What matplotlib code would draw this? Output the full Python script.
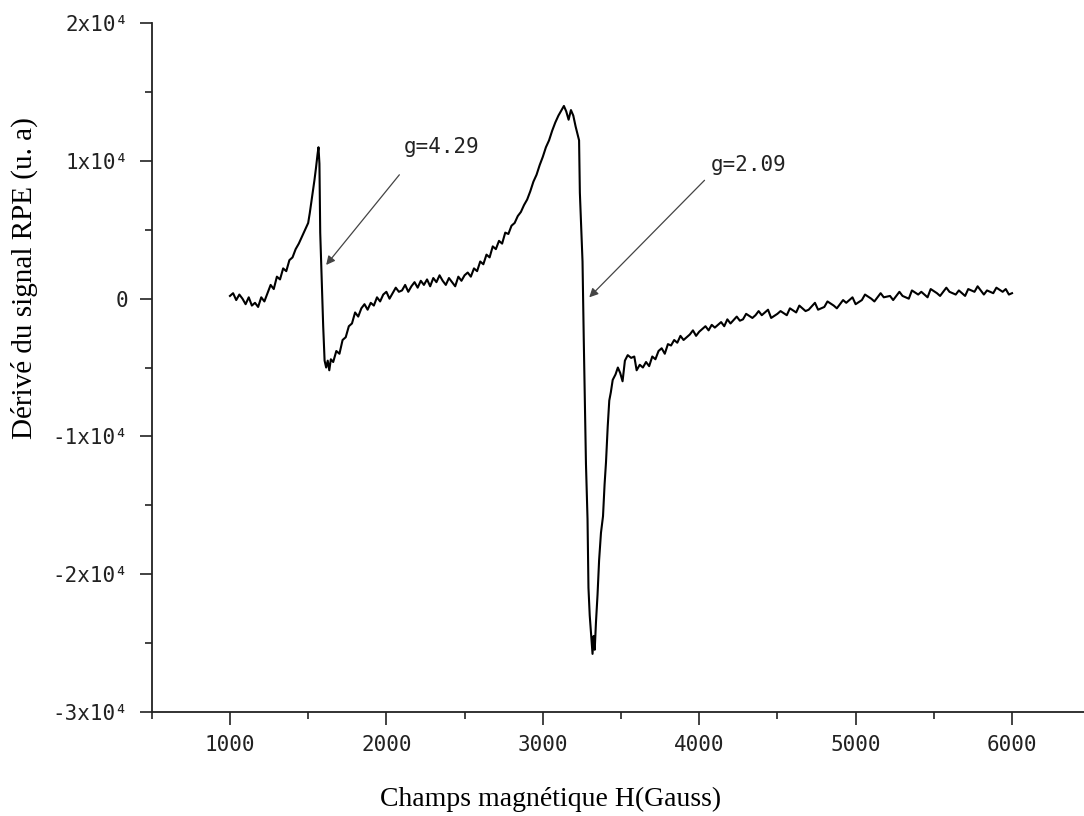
import numpy as np
import matplotlib
matplotlib.use("Agg")
import matplotlib.pyplot as plt
from matplotlib.ticker import MultipleLocator, FixedLocator

# champ magnétique (G) et signal dérivé (en unités de 1e4)
field = [
    1000, 1020, 1040, 1060, 1080, 1100, 1120, 1140, 1160, 1180,
    1200, 1220, 1240, 1260, 1280, 1300, 1320, 1340, 1360, 1380,
    1400, 1420, 1440, 1460, 1480, 1500, 1510, 1520, 1530, 1540,
    1550, 1560, 1566, 1572, 1577, 1596, 1605, 1615, 1625, 1635,
    1645, 1660, 1680, 1700, 1720, 1740, 1760, 1780, 1800, 1820,
    1840, 1860, 1880, 1900, 1920, 1940, 1960, 1980, 2000, 2020,
    2040, 2060, 2080, 2100, 2120, 2140, 2160, 2180, 2200, 2220,
    2240, 2260, 2280, 2300, 2320, 2340, 2360, 2380, 2400, 2420,
    2440, 2460, 2480, 2500, 2520, 2540, 2560, 2580, 2600, 2620,
    2640, 2660, 2680, 2700, 2720, 2740, 2760, 2780, 2800, 2820,
    2840, 2860, 2880, 2900, 2920, 2940, 2960, 2980, 3000, 3020,
    3040, 3060, 3080, 3100, 3120, 3135, 3150, 3165, 3180, 3195,
    3210, 3225, 3232, 3237, 3254, 3262, 3276, 3286, 3292, 3300,
    3310, 3318, 3325, 3332, 3340, 3350, 3360, 3372, 3385, 3395,
    3404, 3415, 3425, 3435, 3447, 3465, 3480, 3495, 3510, 3525,
    3543, 3565, 3585, 3600, 3620, 3640, 3660, 3680, 3700, 3720,
    3740, 3760, 3780, 3800, 3820, 3840, 3860, 3880, 3900, 3940,
    3960, 3980, 4000, 4040, 4060, 4080, 4100, 4140, 4160, 4180,
    4200, 4240, 4260, 4280, 4300, 4340, 4360, 4380, 4400, 4440,
    4460, 4500, 4520, 4560, 4580, 4620, 4640, 4680, 4700, 4740,
    4760, 4800, 4820, 4860, 4880, 4920, 4940, 4980, 5000, 5040,
    5060, 5100, 5120, 5160, 5180, 5220, 5240, 5280, 5300, 5340,
    5360, 5400, 5420, 5460, 5480, 5520, 5540, 5580, 5600, 5640,
    5660, 5700, 5720, 5760, 5780, 5820, 5840, 5880, 5900, 5940,
    5960, 5980, 6000,
]
signal = [
    0.02, 0.04, -0.01, 0.03, 0.00, -0.04, 0.01, -0.05, -0.03, -0.06,
    0.01, -0.02, 0.04, 0.10, 0.07, 0.16, 0.14, 0.22, 0.20, 0.28,
    0.30, 0.36, 0.40, 0.45, 0.50, 0.55, 0.62, 0.70, 0.78, 0.86,
    0.95, 1.05, 1.10, 0.98, 0.48, -0.20, -0.45, -0.50, -0.45, -0.52,
    -0.44, -0.46, -0.38, -0.40, -0.30, -0.28, -0.20, -0.18, -0.10, -0.13,
    -0.07, -0.04, -0.08, -0.03, -0.05, 0.01, -0.02, 0.03, 0.05, 0.00,
    0.04, 0.08, 0.05, 0.06, 0.10, 0.05, 0.09, 0.12, 0.08, 0.13,
    0.10, 0.14, 0.09, 0.15, 0.12, 0.17, 0.13, 0.10, 0.15, 0.12,
    0.09, 0.16, 0.13, 0.17, 0.19, 0.16, 0.22, 0.20, 0.27, 0.25,
    0.32, 0.30, 0.38, 0.36, 0.42, 0.40, 0.48, 0.47, 0.53, 0.55,
    0.60, 0.63, 0.68, 0.72, 0.78, 0.85, 0.90, 0.97, 1.03, 1.10,
    1.15, 1.22, 1.28, 1.33, 1.37, 1.40, 1.36, 1.30, 1.37, 1.33,
    1.25, 1.18, 1.15, 0.77, 0.27, -0.30, -1.20, -1.60, -2.10, -2.30,
    -2.45, -2.58, -2.45, -2.55, -2.35, -2.15, -1.90, -1.70, -1.58, -1.35,
    -1.19, -0.93, -0.74, -0.68, -0.59, -0.55, -0.50, -0.54, -0.60, -0.45,
    -0.41, -0.43, -0.42, -0.52, -0.48, -0.50, -0.46, -0.49, -0.42, -0.44,
    -0.38, -0.36, -0.40, -0.33, -0.34, -0.30, -0.32, -0.27, -0.30, -0.26,
    -0.23, -0.27, -0.24, -0.20, -0.23, -0.19, -0.21, -0.17, -0.20, -0.15,
    -0.18, -0.13, -0.16, -0.15, -0.11, -0.14, -0.12, -0.09, -0.12, -0.08,
    -0.14, -0.11, -0.09, -0.12, -0.07, -0.10, -0.05, -0.09, -0.08, -0.03,
    -0.08, -0.06, -0.02, -0.05, -0.07, -0.01, -0.03, 0.01, -0.04, -0.01,
    0.03, 0.00, -0.02, 0.04, 0.01, 0.02, -0.01, 0.05, 0.02, 0.00,
    0.06, 0.03, 0.05, 0.01, 0.07, 0.04, 0.02, 0.08, 0.05, 0.03,
    0.06, 0.02, 0.07, 0.05, 0.09, 0.03, 0.06, 0.04, 0.08, 0.05,
    0.07, 0.03, 0.04,
]

y_ticks = [-3e4, -2e4, -1e4, 0, 1e4, 2e4]
y_ticklabels = ["-3x10⁴", "-2x10⁴", "-1x10⁴", "0", "1x10⁴", "2x10⁴"]
x_ticks = [1000, 2000, 3000, 4000, 5000, 6000]

# annotations : texte, position du texte, pointe de la flèche, départ de la flèche
notes = [
    ("g=4.29", (2109, 1.10e4), (1615, 0.245e4), (2083, 0.90e4)),
    ("g=2.09", (4077, 0.97e4), (3297, 0.01e4), (4034, 0.86e4)),
]

tick_font = "DejaVu Sans Mono"
label_font = "Liberation Serif"

fig = plt.figure(figsize=(10.84, 8.16), dpi=100)
ax = fig.add_axes([0.140, 0.1278, 0.862, 0.8436])

ax.plot(field, np.array(signal) * 1e4, color="black", lw=1.5)

ax.set_xlim(500, 6474)
ax.set_ylim(-3e4, 2e4)

for s in ["top", "right"]:
    ax.spines[s].set_visible(False)
for s in ["left", "bottom"]:
    ax.spines[s].set_linewidth(1.3)
    ax.spines[s].set_color("#222222")

ax.set_xticks(x_ticks)
ax.xaxis.set_minor_locator(FixedLocator([500, 1500, 2500, 3500, 4500, 5500]))
ax.set_yticks(y_ticks)
ax.set_yticklabels(y_ticklabels)
ax.yaxis.set_minor_locator(MultipleLocator(5000))

ax.tick_params(which="major", length=9, width=1.2, color="#222222",
               labelsize=15, pad=8, direction="out")
ax.tick_params(which="minor", length=5, width=1.2, color="#222222",
               direction="out")
for lab in ax.get_xticklabels() + ax.get_yticklabels():
    lab.set_fontfamily(tick_font)
    lab.set_color("#222222")

ax.set_xlabel("Champs magnétique H(Gauss)", fontfamily=label_font, fontsize=20)
ax.set_ylabel("Dérivé du signal RPE (u. a)", fontfamily=label_font, fontsize=21)
ax.xaxis.set_label_coords(0.427, -0.109)
ax.yaxis.set_label_coords(-0.122, 0.63)

for txt, xy_text, xy_head, xy_tail in notes:
    ax.text(xy_text[0], xy_text[1], txt, fontfamily=tick_font, fontsize=15,
            color="#222222", va="center", ha="left")
    ax.annotate("", xy=xy_head, xytext=xy_tail,
                arrowprops=dict(arrowstyle="-|>", color="#444444", lw=0.9,
                                mutation_scale=13, shrinkA=0, shrinkB=0))

fig.savefig("out.png", dpi=100)
